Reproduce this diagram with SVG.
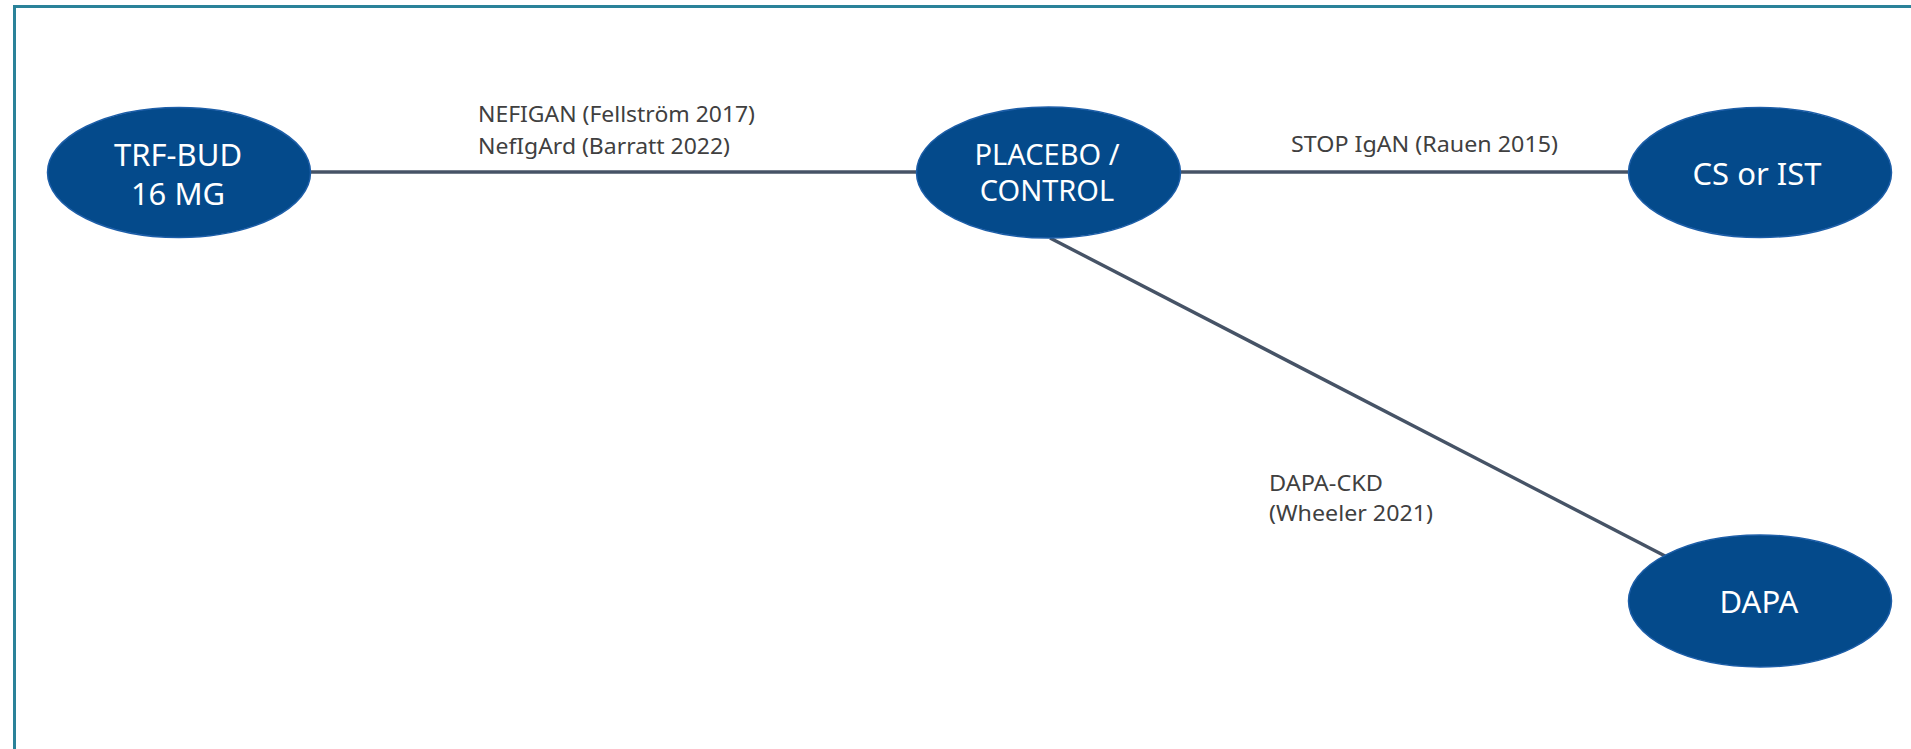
<svg xmlns="http://www.w3.org/2000/svg" width="1911" height="749" viewBox="0 0 1911 749">
<style>
.node ellipse{fill:#044a8b;stroke:#1d5ea8;stroke-width:1.5}
.node text{font-family:"Noto Sans","Open Sans",sans-serif;font-size:31px;fill:#ffffff;text-anchor:middle}
#node-placebo text{font-size:29px}
.edge line{stroke:#465366;stroke-width:3.4;fill:none}
.lbl{font-family:"Noto Sans","Open Sans",sans-serif;font-size:22px;fill:#404040}
</style>
<rect x="0" y="0" width="1911" height="749" fill="#ffffff"/>
<rect x="14.5" y="6.5" width="1950" height="800" fill="none" stroke="#2a8299" stroke-width="3"/>
<g id="connectors" class="edge">
<line x1="311" y1="172" x2="917" y2="172"/>
<line x1="1180" y1="172" x2="1629" y2="172"/>
<line x1="1050" y1="238" x2="1667" y2="557"/>
</g>
<g id="labels">
<text class="lbl" x="478" y="122" textLength="277" lengthAdjust="spacingAndGlyphs">NEFIGAN (Fellström 2017)</text>
<text class="lbl" x="478" y="153.5" textLength="252" lengthAdjust="spacingAndGlyphs">NefIgArd (Barratt 2022)</text>
<text class="lbl" x="1291" y="152" textLength="267" lengthAdjust="spacingAndGlyphs">STOP IgAN (Rauen 2015)</text>
<text class="lbl" x="1269" y="490.5" textLength="114" lengthAdjust="spacingAndGlyphs">DAPA-CKD</text>
<text class="lbl" x="1269" y="520.5" textLength="164" lengthAdjust="spacingAndGlyphs">(Wheeler 2021)</text>
</g>
<g id="node-trfbud" class="node">
<ellipse cx="179" cy="172.5" rx="131.5" ry="65"/>
<text x="178" y="166">TRF-BUD</text>
<text x="178" y="205">16 MG</text>
</g>
<g id="node-placebo" class="node">
<ellipse cx="1048.5" cy="172.5" rx="132" ry="65.5"/>
<text x="1047" y="165">PLACEBO /</text>
<text x="1047" y="201">CONTROL</text>
</g>
<g id="node-csist" class="node">
<ellipse cx="1760" cy="172.5" rx="131.5" ry="65"/>
<text x="1757" y="185">CS or IST</text>
</g>
<g id="node-dapa" class="node">
<ellipse cx="1760" cy="601" rx="131.5" ry="66"/>
<text x="1759" y="613">DAPA</text>
</g>
</svg>
